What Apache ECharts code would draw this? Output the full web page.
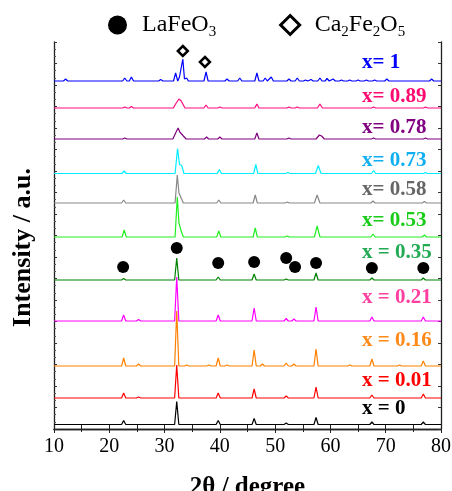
<!DOCTYPE html>
<html>
<head>
<meta charset="utf-8">
<script src="https://cdn.jsdelivr.net/npm/echarts@6/dist/echarts.min.js"></script>
<style>html,body{margin:0;padding:0;background:#fff;}#chart{width:452px;height:491px;}</style>
</head>
<body>
<div id="chart"></div>
<script>
// ---- data ----
const X_MIN = 10, X_MAX = 80;
const xTicks = [10, 20, 30, 40, 50, 60, 70, 80];
const sampleLabels = ['x = 0', 'x = 0.01', 'x = 0.16', 'x = 0.21', 'x = 0.35', 'x= 0.53', 'x= 0.58', 'x= 0.73', 'x= 0.78', 'x= 0.89', 'x= 1'];
// vertical offset of each stacked pattern (a.u.)
const offsets = [4.5, 31, 63, 108, 149, 192, 226, 255.5, 290, 321, 348];
// peaks: [2theta, intensity, (halfwidth)] or explicit profile [[2theta, intensity], ...]
const peaksX0 = [[22.6,4],[32.2,23],[39.7,4],[46.2,6],[52.0,1.5],[57.4,7],[67.5,2.5],[76.8,2.5]];
const peaksX001 = [[22.6,5],[25.3,1],[32.2,33],[39.7,5],[46.2,9],[52.0,2],[57.4,11],[67.5,3],[76.8,4]];
const peaksX016 = [[22.6,8],[25.3,2],[32.2,55],[34.0,1],[38.0,1],[39.7,8],[41.3,1],[46.2,16],[47.7,2],[52.0,3],[53.4,2],[57.4,17],[63.5,1],[67.5,7],[72.5,1],[76.8,5]];
const peaksX021 = [[22.6,6],[25.3,1.5],[32.2,44],[39.7,6],[46.2,13],[52.0,2.5],[53.4,2],[57.4,14],[67.5,4],[76.8,4]];
const peaksX035 = [[22.6,1.5],[32.2,22],[39.7,3],[46.2,6],[52.0,1],[57.4,7],[67.5,2],[76.8,2]];
const peaksX053 = [[22.7,7],[[31.9,0],[32.3,40],[32.6,14],[33.0,6],[33.4,0]],[39.8,6],[46.4,9],[52.2,1],[57.6,11,0.5],[67.7,3],[77.0,2]];
const peaksX058 = [[22.6,3],[[31.9,0],[32.3,28],[32.6,10],[33.0,5],[33.4,0]],[39.8,3],[46.4,8],[52.2,1],[57.6,8,0.5],[67.7,2],[77.0,1.5]];
const peaksX073 = [[22.7,2.5],[[31.9,0],[32.35,25],[32.7,9],[33.1,8],[33.5,0]],[39.9,4],[46.5,9],[52.3,1],[57.8,8,0.5],[67.8,3],[77.2,1]];
const peaksX078 = [[22.8,1],[[31.5,0],[32.0,6],[32.2,5],[32.45,11],[32.75,7],[33.0,8],[33.4,3],[33.9,0]],[37.6,2],[40.0,2],[46.7,6],[52.5,1],[[57.4,0],[58.0,4],[58.4,3],[58.9,0]],[67.8,1],[77.2,1]];
const peaksX089 = [[22.8,1],[24.0,1.5],[[31.6,0],[32.0,4],[32.3,6],[32.6,9],[32.8,11],[33.0,7],[33.3,5],[33.7,0]],[37.5,3],[40.0,1],[46.7,4],[52.5,1],[54.0,1],[58.1,4,0.45],[67.8,1],[77.2,1]];
const peaksX1 = [[12.1,2],[22.8,3],[24.0,4],[29.3,1.5],[32.0,8],[[32.5,0],[32.7,4],[33.0,2],[33.3,22],[33.6,2],[34.0,3],[34.3,0]],[37.5,9],[41.3,2],[43.6,3],[46.7,8],[48.2,3],[49.3,4],[52.5,2],[54.0,3],[55.5,1],[56.5,1.5],[58.1,3],[59.4,2.5],[60.5,2],[62.0,1],[63.5,1],[65.0,1],[66.5,1],[68.0,1],[70.2,2],[78.3,2]];
const allPeaks = [peaksX0, peaksX001, peaksX016, peaksX021, peaksX035, peaksX053, peaksX058, peaksX073, peaksX078, peaksX089, peaksX1];
// phase markers [2theta, a.u.]
const lafeo3Marks = [[22.5,162],[32.2,181],[39.7,166],[46.2,167],[52.0,171],[53.6,162],[57.4,166],[67.5,161],[76.8,161]];
const ca2fe2o5Marks = [[33.3,378],[37.3,367]];

// ---- styles / layout ----
const lineColors = ['#000000','#ff0000','#ff8000','#ff00ff','#008000','#22ee22','#888888','#00eeff','#800080','#ff0a80','#0000ff'];
const labelColors = ['#000000','#ff0000','#ff8a1a','#ff40a0','#22aa55','#18cc18','#666666','#10b0f0','#800080','#ff0a70','#0000ff'];
const labelY = [20, 48, 88, 131, 176, 208, 239, 268, 301, 332, 366];
const LABEL_X = 65.7;
const HALF_WIDTH = 0.38;
const SERIF = '"Times New Roman", "Liberation Serif", serif';

function buildTrace(peaks, off) {
  const pts = [[X_MIN, off]];
  peaks.forEach(pk => {
    if (Array.isArray(pk[0])) {
      pk.forEach(p => pts.push([p[0], off + p[1]]));
    } else {
      const w = pk[2] || HALF_WIDTH;
      pts.push([pk[0] - w, off], [pk[0], off + pk[1]], [pk[0] + w, off]);
    }
  });
  pts.push([X_MAX, off]);
  return pts;
}

const series = allPeaks.map((pk, i) => ({
  type: 'line',
  name: sampleLabels[i],
  data: buildTrace(pk, offsets[i]),
  showSymbol: false,
  symbol: 'none',
  lineStyle: { color: lineColors[i], width: 1.2 },
  itemStyle: { color: lineColors[i] },
  silent: true,
  markPoint: {
    symbol: 'circle', symbolSize: 0, silent: true,
    data: [{ coord: [LABEL_X, labelY[i]] }],
    label: {
      show: true, position: 'right', distance: 0,
      formatter: sampleLabels[i],
      fontFamily: SERIF, fontWeight: 'bold', fontSize: 21, color: labelColors[i]
    }
  }
}));

series.push({
  type: 'scatter', name: 'LaFeO3', data: lafeo3Marks, symbol: 'circle', symbolSize: 12,
  itemStyle: { color: '#000', opacity: 1 }, z: 5
});
series.push({
  type: 'scatter', name: 'Ca2Fe2O5', data: ca2fe2o5Marks, symbol: 'diamond', symbolSize: 10,
  itemStyle: { color: '#fff', borderColor: '#000', borderWidth: 2.5, opacity: 1 }, z: 5
});

const axisLine = { show: true, lineStyle: { color: '#222', width: 1.3 } };
const chart = echarts.init(document.getElementById('chart'), null, { renderer: 'canvas' });
chart.setOption({
  animation: false,
  backgroundColor: '#fff',
  grid: { left: 54, right: 11, top: 42, bottom: 62, containLabel: false, outerBoundsMode: 'none' },
  legend: {
    left: 103, top: 5,
    itemWidth: 19, itemHeight: 19, itemGap: 63,
    data: [
      { name: 'LaFeO3', icon: 'circle', itemStyle: { color: '#000', opacity: 1 } },
      { name: 'Ca2Fe2O5', icon: 'diamond', itemStyle: { color: '#fff', borderColor: '#000', borderWidth: 3, opacity: 1 } }
    ],
    formatter: n => n === 'LaFeO3' ? 'LaFeO{s|3}' : 'Ca{s|2}Fe{s|2}O{s|5}',
    textStyle: {
      fontFamily: SERIF, fontSize: 24, color: '#000', lineHeight: 30, padding: [0, 0, 0, 10],
      rich: { s: { fontFamily: SERIF, fontSize: 15, lineHeight: 18, verticalAlign: 'bottom', color: '#000' } }
    }
  },
  xAxis: [{
    type: 'value', min: X_MIN, max: X_MAX, interval: 10, position: 'bottom',
    axisLine, splitLine: { show: false },
    axisTick: { show: true, inside: true, length: 5, lineStyle: { color: '#222' } },
    minorTick: { show: true, splitNumber: 2, length: 4, lineStyle: { color: '#222' } },
    axisLabel: { fontFamily: SERIF, fontSize: 20, color: '#000', margin: 8,
      formatter: v => xTicks.includes(v) ? String(v) : '' },
    name: '2θ / degree', nameLocation: 'middle', nameGap: 46,
    nameTextStyle: { fontFamily: SERIF, fontSize: 25, fontWeight: 'bold', color: '#000' }
  }, {
    type: 'value', min: X_MIN, max: X_MAX, interval: 10, position: 'top',
    axisLine, splitLine: { show: false }, axisLabel: { show: false },
    axisTick: { show: true, inside: true, length: 4, lineStyle: { color: '#222' } },
    minorTick: { show: true, splitNumber: 2, length: 3, lineStyle: { color: '#222' } }
  }],
  yAxis: [{
    type: 'value', min: 0, max: 387, interval: 21.5, position: 'left',
    axisLine, splitLine: { show: false }, axisLabel: { show: false },
    axisTick: { show: true, inside: true, length: 3, lineStyle: { color: '#333' } },
    minorTick: { show: true, splitNumber: 3, length: 2, lineStyle: { color: '#555' } },
    name: 'Intensity / a.u.', nameLocation: 'middle', nameGap: 18,
    nameTextStyle: { fontFamily: SERIF, fontSize: 26, fontWeight: 'bold', color: '#000', padding: [0, 24, 0, 0] }
  }, {
    type: 'value', min: 0, max: 387, interval: 21.5, position: 'right',
    axisLine, splitLine: { show: false }, axisLabel: { show: false },
    axisTick: { show: true, inside: true, length: 3, lineStyle: { color: '#333' } }
  }],
  series
});
</script>
</body>
</html>
